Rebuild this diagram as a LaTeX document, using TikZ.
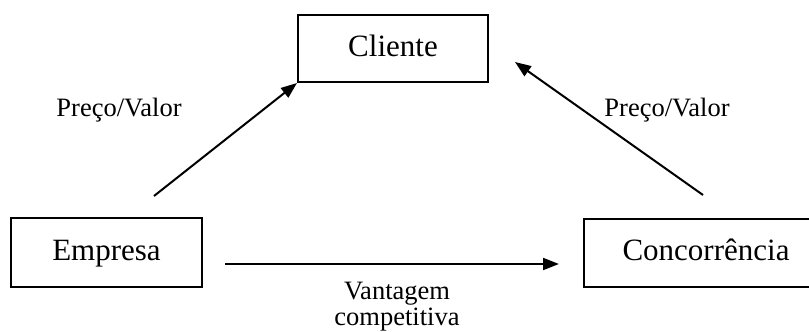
\documentclass[tikz,border=0pt]{standalone}
\usepackage{fontspec}
\setmainfont{Liberation Serif}
\usetikzlibrary{arrows.meta}
\begin{document}
\begin{tikzpicture}[x=1pt,y=-1pt,
  box/.style={draw, line width=2pt, inner sep=0pt,
    font=\fontsize{31}{37}\selectfont, text height=22pt, text depth=7pt},
  lbl/.style={inner sep=0pt, font=\fontsize{26.5}{26}\selectfont},
  arr/.style={line width=2pt, -{Triangle[length=16pt,width=12pt]}}]
  \useasboundingbox (0,0) rectangle (809,332);
  \clip (0,0) rectangle (809,332);

  % entities
  \node[box, minimum width=190pt, minimum height=67pt] (cliente) at (393,48.5) {Cliente};
  \node[box, minimum width=191pt, minimum height=69pt] (empresa) at (106.5,252.5) {Empresa};
  \node[box, minimum width=244pt, minimum height=68pt] (concorrencia) at (706,253) {Concorrência};

  % connector ends
  \coordinate (eTail) at (154,196);
  \coordinate (cTail) at (703,195);
  \coordinate (cTip)  at (515,62);
  \coordinate (hTail) at (225,264);
  \coordinate (hTip)  at (559,264);

  % connectors
  \draw[arr] (eTail) -- (cliente.south west);
  \draw[arr] (cTail) -- (cTip);
  \draw[arr] (hTail) -- (hTip);

  % labels
  \node[lbl, text height=18.5pt, text depth=5.8pt] (pvL) at (119,110) {Preço/Valor};
  \node[lbl, text height=18.5pt, text depth=5.8pt] (pvR) at (667,110) {Preço/Valor};
  \node[lbl, align=center] (vc) at (397,306.5) {Vantagem\\competitiva};
\end{tikzpicture}
\end{document}
